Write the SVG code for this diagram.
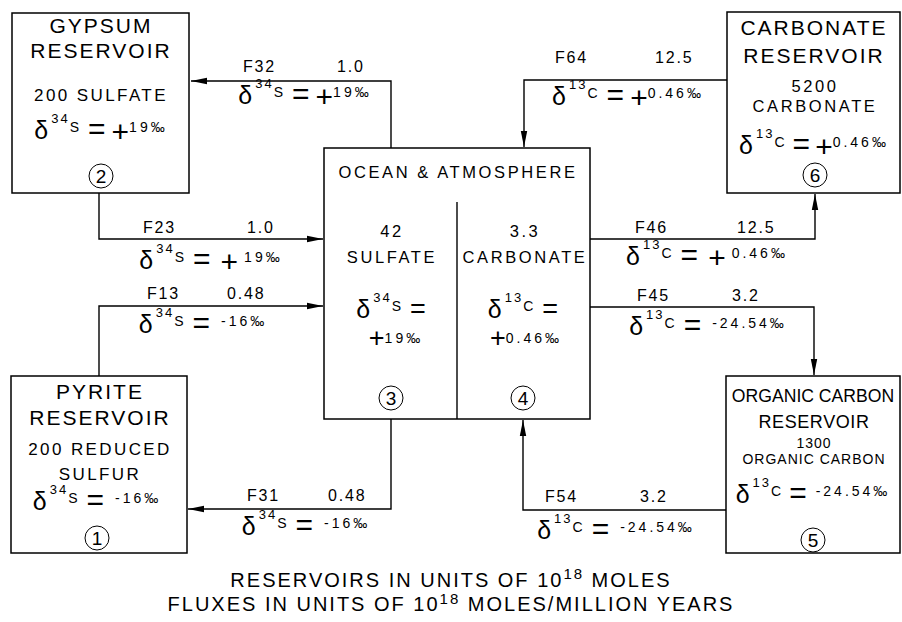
<svg xmlns="http://www.w3.org/2000/svg" width="902" height="622" viewBox="0 0 902 622">
<defs>
<style>
text { font-family: "Liberation Sans", Arial, sans-serif; fill: #000; }
.t1 { font-size: 21px; letter-spacing: 2px; text-anchor: middle; }
.t2 { font-size: 17px; letter-spacing: 2.4px; text-anchor: middle; }
.t3 { font-size: 16.5px; letter-spacing: 2.6px; text-anchor: middle; }
.t4 { font-size: 14px; letter-spacing: 1px; text-anchor: middle; }
.fl { font-size: 16px; letter-spacing: 1.8px; }
.dx { text-anchor: middle; }
.dg { font-size: 25px; }
.sp { font-size: 13px; letter-spacing: 2px; }
.sm { font-size: 14px; letter-spacing: 3px; }
.eq { font-size: 30px; }
.pl { font-size: 30px; font-weight: 300; }
.num { font-size: 19px; text-anchor: middle; }
.box { fill: #fff; stroke: #000; stroke-width: 1.5; }
.ring { fill: none; stroke: #000; stroke-width: 1; }
.conn { fill: none; stroke: #000; stroke-width: 1.4; marker-end: url(#arr); }
.bt { font-size: 20px; letter-spacing: 2px; text-anchor: middle; }
.bs { font-size: 15px; }
</style>
<marker id="arr" markerUnits="userSpaceOnUse" markerWidth="17" markerHeight="8" refX="16" refY="4" orient="auto">
<path d="M0,0.8 L16,4 L0,7.2 Z" fill="#000"/>
</marker>
</defs>

<g id="connectors">
<polyline class="conn" points="391,148 391,81 191,81"/>
<polyline class="conn" points="99,193 99,239 323,239"/>
<polyline class="conn" points="99,376 99,306 323,306"/>
<polyline class="conn" points="391,419 391,509 188,509"/>
<polyline class="conn" points="727,80 524,80 524,147"/>
<polyline class="conn" points="590,239 815,239 815,194"/>
<polyline class="conn" points="590,307 814,307 814,375"/>
<polyline class="conn" points="726,510 523,510 523,420"/>
</g>

<g id="flux-labels">
<text class="fl" x="243" y="72">F32</text><text class="fl" x="337" y="72">1.0</text>
<text class="dx" x="305" y="104"><tspan class="dg">δ</tspan><tspan class="sp" dy="-16" dx="3">34</tspan><tspan class="sm" dy="9">S</tspan><tspan class="eq" dy="7" dx="6">=</tspan><tspan class="pl" dy="3" dx="6">+</tspan><tspan class="sm" dy="-10">19‰</tspan></text>

<text class="fl" x="143" y="233">F23</text><text class="fl" x="247" y="233">1.0</text>
<text class="dx" x="211" y="269"><tspan class="dg">δ</tspan><tspan class="sp" dy="-16" dx="3">34</tspan><tspan class="sm" dy="9">S</tspan><tspan class="eq" dy="7" dx="6">=</tspan><tspan class="pl" dy="3" dx="10">+</tspan><tspan class="sm" dy="-10" dx="6">19‰</tspan></text>

<text class="fl" x="147" y="299">F13</text><text class="fl" x="227" y="299">0.48</text>
<text class="dx" x="203" y="333"><tspan class="dg">δ</tspan><tspan class="sp" dy="-16" dx="3">34</tspan><tspan class="sm" dy="9">S</tspan><tspan class="eq" dy="7" dx="6">=</tspan><tspan class="sm" dy="-7" dx="11">-16‰</tspan></text>

<text class="fl" x="247" y="501">F31</text><text class="fl" x="328" y="501">0.48</text>
<text class="dx" x="306" y="535"><tspan class="dg">δ</tspan><tspan class="sp" dy="-16" dx="3">34</tspan><tspan class="sm" dy="9">S</tspan><tspan class="eq" dy="7" dx="6">=</tspan><tspan class="sm" dy="-7" dx="11">-16‰</tspan></text>

<text class="fl" x="555" y="63">F64</text><text class="fl" x="655" y="63">12.5</text>
<text class="dx" x="628" y="105"><tspan class="dg">δ</tspan><tspan class="sp" dy="-16" dx="3">13</tspan><tspan class="sm" dy="9">C</tspan><tspan class="eq" dy="7" dx="6">=</tspan><tspan class="pl" dy="3" dx="6">+</tspan><tspan class="sm" dy="-10">0.46‰</tspan></text>

<text class="fl" x="635" y="233">F46</text><text class="fl" x="737" y="233">12.5</text>
<text class="dx" x="707" y="265"><tspan class="dg">δ</tspan><tspan class="sp" dy="-16" dx="3">13</tspan><tspan class="sm" dy="9">C</tspan><tspan class="eq" dy="7" dx="6">=</tspan><tspan class="pl" dy="3" dx="10">+</tspan><tspan class="sm" dy="-10" dx="6">0.46‰</tspan></text>

<text class="fl" x="637" y="301">F45</text><text class="fl" x="732" y="301">3.2</text>
<text class="dx" x="708" y="335"><tspan class="dg">δ</tspan><tspan class="sp" dy="-16" dx="3">13</tspan><tspan class="sm" dy="9">C</tspan><tspan class="eq" dy="7" dx="6">=</tspan><tspan class="sm" dy="-7" dx="11">-24.54‰</tspan></text>

<text class="fl" x="545" y="502">F54</text><text class="fl" x="640" y="502">3.2</text>
<text class="dx" x="616" y="539"><tspan class="dg">δ</tspan><tspan class="sp" dy="-16" dx="3">13</tspan><tspan class="sm" dy="9">C</tspan><tspan class="eq" dy="7" dx="6">=</tspan><tspan class="sm" dy="-7" dx="11">-24.54‰</tspan></text>
</g>

<g id="node-gypsum">
<rect class="box" x="12" y="13" width="177" height="180"/>
<text class="t1" x="101" y="33">GYPSUM</text>
<text class="t1" x="101" y="58">RESERVOIR</text>
<text class="t2" x="101" y="101">200 SULFATE</text>
<text class="dx" x="101" y="139"><tspan class="dg">δ</tspan><tspan class="sp" dy="-16" dx="3">34</tspan><tspan class="sm" dy="9">S</tspan><tspan class="eq" dy="7" dx="6">=</tspan><tspan class="pl" dy="3" dx="6">+</tspan><tspan class="sm" dy="-10">19‰</tspan></text>
<circle class="ring" cx="101" cy="176" r="12"/>
<text class="num" x="101" y="183">2</text>
</g>

<g id="node-ocean">
<rect class="box" x="324" y="148" width="266" height="271"/>
<line x1="457" y1="202" x2="457" y2="419" stroke="#000" stroke-width="1.4"/>
<text class="t3" x="458" y="178">OCEAN &amp; ATMOSPHERE</text>
<text class="t3" x="392" y="237">42</text>
<text class="t3" x="392" y="263">SULFATE</text>
<text class="t3" x="525" y="237">3.3</text>
<text class="t3" x="525" y="263">CARBONATE</text>
<text class="dx" x="391" y="318"><tspan class="dg">δ</tspan><tspan class="sp" dy="-16" dx="3">34</tspan><tspan class="sm" dy="9">S</tspan><tspan dy="7" dx="6" style="font-size:27px">=</tspan></text>
<text class="dx" x="396" y="347"><tspan style="font-size:27px;font-weight:300">+</tspan><tspan class="sm" dy="-4">19‰</tspan></text>
<text class="dx" x="523" y="318"><tspan class="dg">δ</tspan><tspan class="sp" dy="-16" dx="3">13</tspan><tspan class="sm" dy="9">C</tspan><tspan dy="7" dx="6" style="font-size:27px">=</tspan></text>
<text class="dx" x="526" y="347"><tspan style="font-size:27px;font-weight:300">+</tspan><tspan class="sm" dy="-4">0.46‰</tspan></text>
<circle class="ring" cx="391" cy="398" r="12"/>
<text class="num" x="391" y="405">3</text>
<circle class="ring" cx="523" cy="398" r="12"/>
<text class="num" x="523" y="405">4</text>
</g>

<g id="node-carbonate">
<rect class="box" x="727" y="12" width="173" height="181"/>
<text class="t1" x="814" y="35">CARBONATE</text>
<text class="t1" x="814" y="63">RESERVOIR</text>
<text class="t3" x="815" y="92">5200</text>
<text class="t3" x="815" y="112">CARBONATE</text>
<text class="dx" x="814" y="154"><tspan class="dg">δ</tspan><tspan class="sp" dy="-16" dx="3">13</tspan><tspan class="sm" dy="9">C</tspan><tspan class="eq" dy="7" dx="5">=</tspan><tspan class="pl" dy="3" dx="5">+</tspan><tspan class="sm" dy="-10">0.46‰</tspan></text>
<circle class="ring" cx="815" cy="175" r="12"/>
<text class="num" x="815" y="182">6</text>
</g>

<g id="node-pyrite">
<rect class="box" x="11" y="376" width="176" height="177"/>
<text class="t1" x="100" y="399">PYRITE</text>
<text class="t1" x="100" y="425">RESERVOIR</text>
<text class="t2" x="100" y="455">200 REDUCED</text>
<text class="t2" x="100" y="480">SULFUR</text>
<text class="dx" x="97" y="510"><tspan class="dg">δ</tspan><tspan class="sp" dy="-16" dx="3">34</tspan><tspan class="sm" dy="9">S</tspan><tspan class="eq" dy="7" dx="6">=</tspan><tspan class="sm" dy="-7" dx="11">-16‰</tspan></text>
<circle class="ring" cx="97" cy="538" r="12"/>
<text class="num" x="97" y="545">1</text>
</g>

<g id="node-organic">
<rect class="box" x="726" y="376" width="174" height="177"/>
<text x="813" y="402" style="font-size:17.6px;text-anchor:middle">ORGANIC CARBON</text>
<text x="814" y="428" style="font-size:18px;letter-spacing:0.6px;text-anchor:middle">RESERVOIR</text>
<text class="t4" x="814" y="448">1300</text>
<text class="t4" x="814" y="464">ORGANIC CARBON</text>
<text class="dx" x="813" y="503"><tspan class="dg">δ</tspan><tspan class="sp" dy="-16" dx="3">13</tspan><tspan class="sm" dy="9">C</tspan><tspan class="eq" dy="7" dx="5">=</tspan><tspan class="sm" dy="-7" dx="9">-24.54‰</tspan></text>
<circle class="ring" cx="813" cy="540" r="12"/>
<text class="num" x="813" y="547">5</text>
</g>

<g id="caption">
<text class="bt" x="451" y="587">RESERVOIRS IN UNITS OF 10<tspan class="bs" dy="-8">18</tspan><tspan dy="8"> MOLES</tspan></text>
<text class="bt" x="451" y="611">FLUXES IN UNITS OF 10<tspan class="bs" dy="-7">18</tspan><tspan dy="7"> MOLES/MILLION YEARS</tspan></text>
</g>
</svg>
